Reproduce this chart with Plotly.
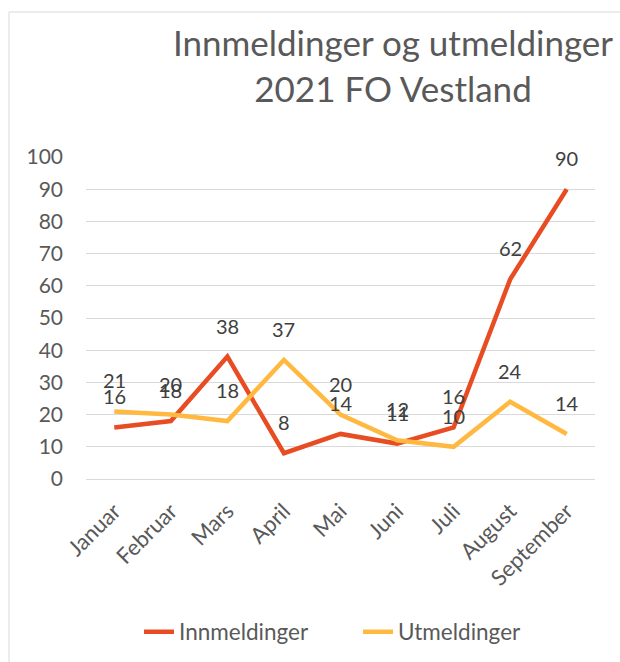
import plotly.graph_objects as go

months = ["Januar", "Februar", "Mars", "April", "Mai", "Juni", "Juli", "August", "September"]
innmeldinger = [16, 18, 38, 8, 14, 11, 16, 62, 90]
utmeldinger = [21, 20, 18, 37, 20, 12, 10, 24, 14]
y_ticks = list(range(0, 101, 10))

RED = "#E84C22"
YELLOW = "#FFB941"
FONT = "Lato"

fig = go.Figure()
fig.add_trace(go.Scatter(x=months, y=innmeldinger, mode="lines", name="Innmeldinger",
                         line=dict(color=RED, width=4.5)))
fig.add_trace(go.Scatter(x=months, y=utmeldinger, mode="lines", name="Utmeldinger",
                         line=dict(color=YELLOW, width=4.5)))

annotations = []
for series in (innmeldinger, utmeldinger):
    for m, v in zip(months, series):
        annotations.append(dict(x=m, y=v, text=str(v), showarrow=False, yshift=31,
                                font=dict(family=FONT, size=20, color="#404040")))

fig.update_layout(
    width=620, height=662,
    margin=dict(l=86, r=25, t=157, b=183, autoexpand=False),
    paper_bgcolor="white", plot_bgcolor="white",
    title=dict(text="Innmeldinger og utmeldinger<br>2021 FO Vestland",
               x=393 / 620, xanchor="center", xref="container",
               y=1 - 56 / 662, yanchor="middle", yref="container",
               font=dict(family=FONT, size=35, color="#595959")),
    xaxis=dict(range=[-0.5, 8.5], tickangle=-45, showgrid=False, showline=False,
               ticks="", ticklabelstandoff=14, automargin=False,
               tickfont=dict(family=FONT, size=22, color="#595959")),
    yaxis=dict(range=[0, 100], tickvals=y_ticks, showgrid=True, gridcolor="#D9D9D9",
               gridwidth=1, zeroline=True, zerolinecolor="#D9D9D9", zerolinewidth=1,
               showline=False, ticks="", ticklabelstandoff=22, automargin=False,
               tickfont=dict(family=FONT, size=21, color="#595959")),
    legend=dict(orientation="h", x=(139 - 86) / 509, xanchor="left", y=(479 - 632) / 322,
                yanchor="middle", entrywidth=174, entrywidthmode="pixels",
                font=dict(family=FONT, size=22.5, color="#595959")),
    annotations=annotations,
    shapes=[dict(type="rect", xref="paper", yref="paper",
                 x0=(9 - 86) / 509, x1=2, y0=-2, y1=(479 - 12) / 322,
                 line=dict(color="#D9D9D9", width=1), layer="below")],
)

fig.write_html("out.html", config={"displayModeBar": False},
               post_script="document.body.style.margin='0';document.body.style.padding='0';")
